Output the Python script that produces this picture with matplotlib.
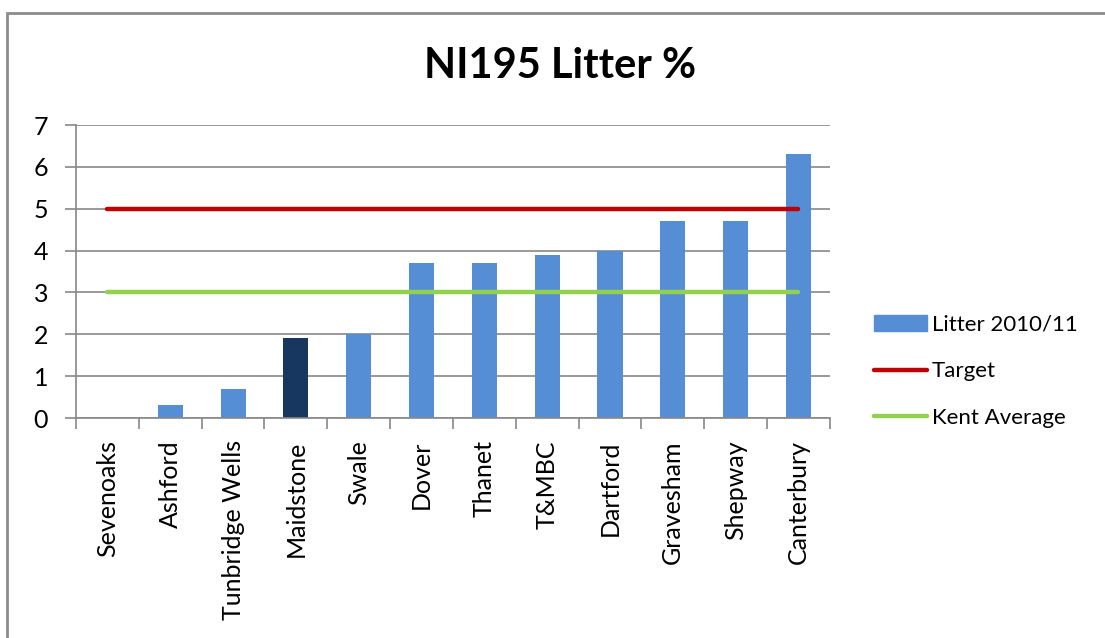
import matplotlib.pyplot as plt
import matplotlib.patches as mpatches
from matplotlib.lines import Line2D

# Data
areas = ['Sevenoaks', 'Ashford', 'Tunbridge Wells', 'Maidstone', 'Swale', 'Dover',
         'Thanet', 'T&MBC', 'Dartford', 'Gravesham', 'Shepway', 'Canterbury']
litter = [0, 0.3, 0.7, 1.9, 2.0, 3.7, 3.7, 3.9, 4.0, 4.7, 4.7, 6.3]
target = [5] * len(areas)
kent_avg = [3] * len(areas)
highlight = 'Maidstone'

plt.rcParams['font.family'] = ['Lato', 'DejaVu Sans']

fig = plt.figure(figsize=(11.05, 6.38), dpi=100)
ax = fig.add_axes([0.0688, 0.3448, 0.6822, 0.4592])

# outer chart border (only top and left visible in the crop)
fig.patches.append(mpatches.Rectangle((7 / 1105, -0.1), 1.2, 1 - 13 / 638 + 0.1,
                                      transform=fig.transFigure, fill=False,
                                      edgecolor='#8c8c8c', linewidth=2))

x = range(len(areas))
colors = ['#17375E' if a == highlight else '#558ED5' for a in areas]
ax.bar(x, litter, width=0.4, color=colors, zorder=2)
ax.plot(x, target, color='#C00000', linewidth=3.2, solid_capstyle='round', zorder=3)
ax.plot(x, kent_avg, color='#92D050', linewidth=3.2, solid_capstyle='round', zorder=3)

ax.set_xlim(-0.5, len(areas) - 0.5)
ax.set_ylim(0, 7)
ax.set_yticks(range(8))
ax.yaxis.grid(True, color='#888888', linewidth=1.2, zorder=0)
ax.set_axisbelow(True)

ax.set_xticks(x)
ax.set_xticklabels(areas, rotation=90, fontsize=18)
ax.set_xticks([i - 0.5 for i in range(len(areas) + 1)], minor=True)
ax.tick_params(axis='x', which='major', length=0, pad=16)
ax.tick_params(axis='x', which='minor', length=8, color='#888888', width=1.2, direction='out')
ax.tick_params(axis='y', length=8, color='#888888', width=1.2, labelsize=18, pad=12)

for s in ['top', 'right']:
    ax.spines[s].set_visible(False)
for s in ['left', 'bottom']:
    ax.spines[s].set_color('#888888')
    ax.spines[s].set_linewidth(1.2)

fig.text(0.507, 0.897, 'NI195 Litter %', ha='center', va='center',
         fontsize=30, fontweight='bold')

handles = [mpatches.Patch(color='#558ED5'),
           Line2D([0], [0], color='#C00000', linewidth=3.2, solid_capstyle='round'),
           Line2D([0], [0], color='#92D050', linewidth=3.2, solid_capstyle='round')]
fig.legend(handles, ['Litter 2010/11', 'Target', 'Kent Average'],
           loc='center left', bbox_to_anchor=(0.783, 0.418), frameon=False,
           fontsize=16, handlelength=2.4, handletextpad=0.2, labelspacing=1.2,
           borderaxespad=0)

plt.savefig('out.png', dpi=100)
